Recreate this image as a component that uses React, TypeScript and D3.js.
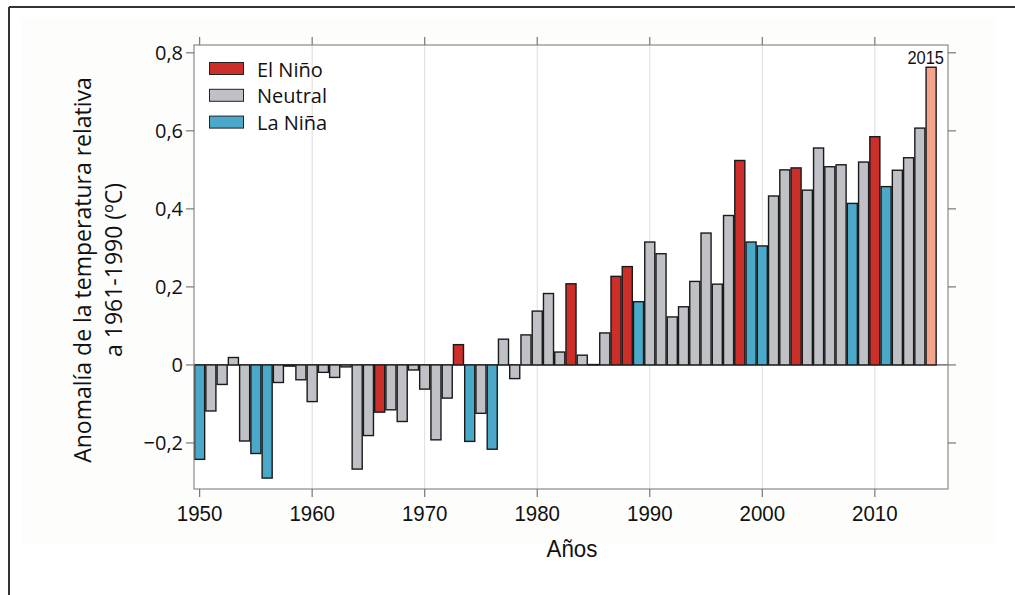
import React from "react";
import * as d3 from "d3";

const years: number[] = d3.range(1950, 2016);
const anomalies: number[] = [
  -0.242, -0.118, -0.05, 0.019, -0.195, -0.227, -0.29, -0.045, -0.003, -0.038,
  -0.094, -0.019, -0.032, -0.005, -0.267, -0.181, -0.121, -0.115, -0.145, -0.013,
  -0.062, -0.192, -0.085, 0.052, -0.196, -0.124, -0.216, 0.066, -0.035, 0.077,
  0.138, 0.183, 0.033, 0.208, 0.025, 0.001, 0.082, 0.227, 0.252, 0.162,
  0.315, 0.285, 0.123, 0.149, 0.214, 0.338, 0.207, 0.383, 0.524, 0.315,
  0.305, 0.433, 0.5, 0.505, 0.448, 0.556, 0.508, 0.513, 0.414, 0.52,
  0.585, 0.457, 0.499, 0.531, 0.607, 0.763,
];
// N = neutral, E = El Niño, L = La Niña, H = 2015 highlight
const phases: string =
  "LNNNNLLNNN" +
  "NNNNNNENNN" +
  "NNNELNLNNN" +
  "NNNENNNEEL" +
  "NNNNNNNNEL" +
  "LNNENNNNLN" +
  "ELNNNH";

const legendLabels: string[] = ["El Niño", "Neutral", "La Niña"];
const legendKeys: string[] = ["E", "N", "L"];
const yTicks: number[] = [-0.2, 0, 0.2, 0.4, 0.6, 0.8];
const xTicks: number[] = [1950, 1960, 1970, 1980, 1990, 2000, 2010];

const colors: Record<string, string> = {
  E: "#cc2e29",
  N: "#bfc1c6",
  L: "#4aa9c8",
  H: "#f4a48b",
};

export default function App() {
  const W = 1015;
  const H = 595;
  const left = 194, right = 948, top = 45, bottom = 489;
  const x = d3.scaleLinear().domain([1949.5, 2016.5]).range([left, right]);
  const y = d3.scaleLinear().domain([-0.318, 0.82]).range([bottom, top]);
  const bw = x(1) - x(0);
  const fmt = (v: number) => {
    if (Math.abs(v) < 1e-9) return "0";
    const s = Math.abs(v).toFixed(1).replace(".", ",");
    return v < 0 ? "\u2212" + s : s;
  };
  const sans = "'Liberation Sans', Arial, sans-serif";
  const open = "'Open Sans', 'Noto Sans', sans-serif";

  return (
    <svg width={W} height={H} style={{ position: "absolute", left: 0, top: 0, background: "#fff" }}>
      <rect x={22} y={18} width={975} height={525} fill="#fdfdfb" />
      <line x1={9} y1={7} x2={W} y2={7} stroke="#333" strokeWidth={2} />
      <line x1={9} y1={7} x2={9} y2={H} stroke="#333" strokeWidth={2} />
      <rect x={left} y={top} width={right - left} height={bottom - top} fill="#fff" />
      {/* vertical grid */}
      {xTicks.slice(1).map((t) => (
        <line key={"g" + t} x1={x(t)} x2={x(t)} y1={top} y2={bottom} stroke="#ddd" strokeWidth={1} />
      ))}
      {/* zero line */}
      <line x1={left} x2={right} y1={y(0)} y2={y(0)} stroke="#555" strokeWidth={1.3} />
      {/* bars */}
      {years.map((yr, i) => {
        const v = anomalies[i];
        const y0 = y(Math.max(0, v));
        const y1 = y(Math.min(0, v));
        return (
          <rect
            key={yr}
            x={x(yr) - bw / 2 + 0.6}
            y={y0}
            width={bw - 1.2}
            height={Math.max(0.5, y1 - y0)}
            fill={colors[phases[i]]}
            stroke="#1a1a1a"
            strokeWidth={1.4}
          />
        );
      })}
      {/* frame */}
      <rect x={left} y={top} width={right - left} height={bottom - top} fill="none" stroke="#8a8a8a" strokeWidth={1.2} />
      {/* x ticks */}
      {xTicks.map((t) => (
        <g key={"xt" + t}>
          <line x1={x(t)} x2={x(t)} y1={bottom} y2={bottom + 8} stroke="#777" strokeWidth={1.2} />
          <line x1={x(t)} x2={x(t)} y1={top} y2={top - 8} stroke="#777" strokeWidth={1.2} />
          <text
            transform={`translate(${x(t)},${521}) scale(0.93,1)`}
            textAnchor="middle"
            fontFamily={sans}
            fontSize={22}
            fill="#111"
          >
            {t}
          </text>
        </g>
      ))}
      {/* y ticks */}
      {yTicks.map((t) => (
        <g key={"yt" + t}>
          <line x1={left - 8} x2={left} y1={y(t)} y2={y(t)} stroke="#777" strokeWidth={1.2} />
          <line x1={right} x2={right + 8} y1={y(t)} y2={y(t)} stroke="#777" strokeWidth={1.2} />
          <text x={183} y={y(t) + 7} textAnchor="end" fontFamily={open} fontSize={20} fill="#111">
            {fmt(t)}
          </text>
        </g>
      ))}
      {/* 2015 label */}
      <text
        transform={`translate(${944},${64}) scale(0.94,1)`}
        textAnchor="end"
        fontFamily={sans}
        fontSize={17.5}
        fill="#111"
      >
        2015
      </text>
      {/* legend */}
      {legendLabels.map((lab, i) => (
        <g key={lab}>
          <rect x={209.5} y={62.5 + i * 26.8} width={34} height={12} fill={colors[legendKeys[i]]} stroke="#222" strokeWidth={1} />
          <text x={257} y={76.5 + i * 26.8} fontFamily={open} fontSize={20} fill="#111">
            {lab}
          </text>
        </g>
      ))}
      {/* axis titles */}
      <text
        transform={`translate(${572},${557}) scale(0.93,1)`}
        textAnchor="middle"
        fontFamily={sans}
        fontSize={24}
        fill="#111"
      >
        Años
      </text>
      <text transform={`translate(91,270) rotate(-90)`} textAnchor="middle" fontFamily={open} fontSize={23} fill="#111">
        Anomalía de la temperatura relativa
      </text>
      <text transform={`translate(122,270) rotate(-90)`} textAnchor="middle" fontFamily={open} fontSize={23} fill="#111">
        a 1961-1990 (ºC)
      </text>
    </svg>
  );
}
